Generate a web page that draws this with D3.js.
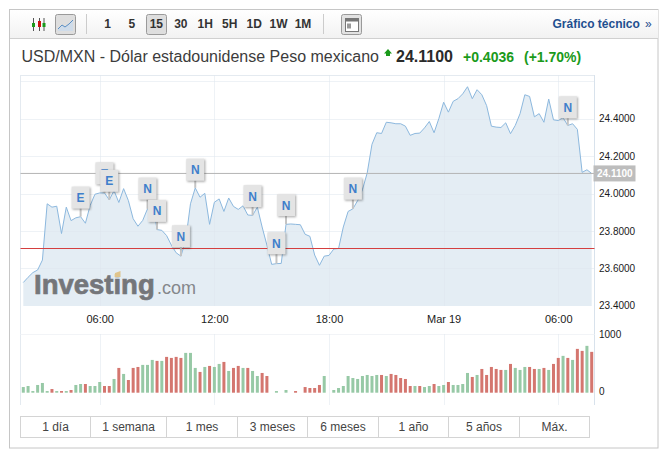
<!DOCTYPE html>
<html>
<head>
<meta charset="utf-8">
<title>USD/MXN</title>
<script src="https://cdn.jsdelivr.net/npm/d3@7"></script>
<style>
  html, body { margin: 0; padding: 0; background: #fff; }
  svg { display: block; font-family: "Liberation Sans", Arial, sans-serif; }
  .axis .domain { display: none; }
  .axis line { display: none; }
  .axis text { fill: #1a1a1a; }
  .flagbox { filter: drop-shadow(1.5px 1.5px 1px rgba(0,0,0,0.35)); }
</style>
</head>
<body>
<svg id="chart" width="668" height="461"></svg>
<script>
// 15 minute bars, one value per bar
const prices = [
  23.524, 23.552, 23.577, 23.591, 23.644, 23.945, 23.927, 23.932, 23.786, 23.927,
  23.855, 23.870, 23.876, 23.841, 23.936, 23.996, 24.003, 24.003, 23.966, 24.015,
  23.952, 24.026, 23.962, 23.865, 23.825, 23.856, 23.918, 23.962, 23.807, 23.803,
  23.775, 23.724, 23.683, 23.665, 23.750, 23.945, 24.030, 23.980, 24.001, 23.835,
  23.953, 23.971, 23.904, 23.976, 23.931, 23.915, 23.934, 23.885, 23.883, 23.927,
  23.821, 23.724, 23.621, 23.625, 23.626, 23.835, 23.837, 23.835, 23.833, 23.782,
  23.771, 23.671, 23.616, 23.665, 23.669, 23.703, 23.706, 23.821, 23.904, 23.918,
  23.962, 24.020, 24.110, 24.263, 24.325, 24.321, 24.381, 24.378, 24.373, 24.373,
  24.360, 24.311, 24.321, 24.323, 24.351, 24.385, 24.325, 24.401, 24.488, 24.435,
  24.493, 24.507, 24.533, 24.571, 24.507, 24.555, 24.528, 24.470, 24.360, 24.355,
  24.353, 24.378, 24.320, 24.364, 24.427, 24.528, 24.519, 24.410, 24.427, 24.381,
  24.505, 24.394, 24.390, 24.405, 24.364, 24.373, 24.343, 24.113, 24.127, 24.107
];
const volumes = [
  99, 117, 29, 135, 170, 29, 64, 29, 29, 29,
  47, 135, 152, 152, 117, 117, 187, 117, 117, 240,
  433, 328, 222, 433, 450, 486, 486, 573, 556, 556,
  626, 608, 626, 608, 696, 696, 433, 363, 450, 468,
  450, 503, 538, 380, 433, 468, 433, 433, 380, 292,
  345, 292, 0, 29, 0, 47, 0, 29, 0, 99,
  82, 82, 135, 292, 0, 47, 82, 117, 292, 257,
  240, 292, 310, 292, 310, 310, 292, 328, 310, 257,
  240, 117, 117, 117, 99, 117, 152, 117, 135, 187,
  135, 135, 152, 345, 275, 310, 415, 310, 450, 415,
  398, 398, 503, 433, 398, 450, 450, 415, 415, 433,
  398, 503, 608, 644, 608, 573, 766, 731, 819, 714
];
// 1 = green bar, 0 = red bar
const volumeUp = [
  1, 1, 1, 1, 1, 1, 0, 1, 0, 1,
  0, 1, 1, 0, 1, 1, 1, 0, 0, 1,
  0, 1, 0, 0, 0, 1, 1, 1, 0, 1,
  0, 0, 0, 0, 1, 1, 1, 0, 1, 0,
  1, 1, 0, 1, 0, 0, 1, 0, 1, 1,
  0, 0, 1, 1, 1, 1, 1, 0, 1, 0,
  0, 0, 0, 1, 1, 1, 1, 1, 1, 1,
  1, 1, 1, 1, 1, 0, 1, 0, 0, 0,
  0, 0, 1, 0, 1, 1, 0, 1, 1, 0,
  1, 1, 1, 1, 0, 1, 0, 0, 0, 0,
  0, 1, 0, 1, 1, 1, 0, 0, 1, 0,
  1, 0, 0, 1, 0, 1, 0, 0, 1, 0
];

const timeTicks = [16, 40, 64, 88, 112];
const timeLabels = ['06:00', '12:00', '18:00', 'Mar 19', '06:00'];
const priceTicks = [23.4, 23.6, 23.8, 24.0, 24.2, 24.4];
const gridPrices = [23.6, 23.8, 24.0, 24.2, 24.4, 24.6];
const volumeTicks = [0, 1000];
const lastPrice = 24.11;
const prevClose = 23.7064;

// event flags: bar they point at, letter, price level of the flag
const flagBars = [12, 17, 18, 26, 28, 33, 36, 48, 55, 53, 69, 114];
const flagLetters = ['E', 'E', 'E', 'N', 'N', 'N', 'N', 'N', 'N', 'N', 'N', 'N'];
const flagLevels = [23.978, 24.108, 24.068, 24.026, 23.907, 23.771, 24.127, 23.986, 23.938, 23.734, 24.026, 24.461];

const toolbarLabels = ['1', '5', '15', '30', '1H', '5H', '1D', '1W', '1M'];
const rangeLabels = ['1 día', '1 semana', '1 mes', '3 meses', '6 meses', '1 año', '5 años', 'Máx.'];
const rangeEdges = [20.5, 90.5, 166.5, 237.5, 307.5, 378.5, 448.5, 519.5, 589.5];

const svg = d3.select('#chart');

const x = d3.scaleLinear().domain([0, 119]).range([23.3, 591.7]);
const y = d3.scaleLinear().domain([23.4, 24.6]).range([305.7, 81.3]);
const yVol = d3.scaleLinear().domain([0, 1000]).range([392.7, 335.5]);

const plotLeft = 20.5, plotRight = 594.5, plotTop = 75, plotBottom = 306, paneBottom = 405;

// outer frame and toolbar
const defs = svg.append('defs');
const grad = defs.append('linearGradient').attr('id', 'bar').attr('x2', 0).attr('y2', 1);
grad.append('stop').attr('offset', 0).attr('stop-color', '#ffffff');
grad.append('stop').attr('offset', 1).attr('stop-color', '#f2f2f2');

svg.append('rect').attr('x', 9.5).attr('y', 9.5).attr('width', 648.5).attr('height', 438.5)
  .attr('fill', '#fff').attr('stroke', '#c6c6c6');
svg.append('rect').attr('x', 10).attr('y', 10).attr('width', 648).attr('height', 28).attr('fill', 'url(#bar)');
svg.append('line').attr('x1', 10).attr('x2', 658).attr('y1', 38.5).attr('y2', 38.5).attr('stroke', '#d0d0d0');

// candle icon
const candleX = [33.5, 39.5, 44];
const candleCol = ['#1a9a1a', '#cc1111', '#1a9a1a'];
candleX.forEach(function(cx, i) {
  svg.append('line').attr('x1', cx).attr('x2', cx).attr('y1', 18).attr('y2', 31).attr('stroke', '#555');
  svg.append('rect').attr('x', cx - 1.5).attr('y', i == 1 ? 21 : 23).attr('width', 3).attr('height', i == 1 ? 6 : 4)
    .attr('fill', candleCol[i]);
});

// line chart button
svg.append('rect').attr('x', 55.5).attr('y', 14.5).attr('width', 20).attr('height', 20).attr('rx', 2)
  .attr('fill', '#dedede').attr('stroke', '#9a9a9a');
svg.append('path').attr('d', 'M58,29 L62,25 L65,27 L69,24 L73,20 L73,31 L58,31 Z').attr('fill', '#cfdcea');
svg.append('path').attr('d', 'M58,29 L62,25 L65,27 L69,24 L73,20').attr('fill', 'none').attr('stroke', '#5b8fc4');

svg.append('line').attr('x1', 86.5).attr('x2', 86.5).attr('y1', 14).attr('y2', 34).attr('stroke', '#ccc');
svg.append('line').attr('x1', 323.5).attr('x2', 323.5).attr('y1', 14).attr('y2', 34).attr('stroke', '#ccc');

svg.append('rect').attr('x', 146.5).attr('y', 14.5).attr('width', 20).attr('height', 20).attr('rx', 2)
  .attr('fill', '#dedede').attr('stroke', '#9a9a9a');

const toolX = d3.scalePoint().domain(toolbarLabels).range([107.5, 303]);
svg.selectAll('.tool').data(toolbarLabels).enter().append('text')
  .attr('class', 'tool')
  .attr('x', d => toolX(d)).attr('y', 28)
  .attr('text-anchor', 'middle')
  .attr('font-size', 12).attr('font-weight', 'bold').attr('fill', '#333')
  .text(d => d);

// table icon
svg.append('rect').attr('x', 341.5).attr('y', 14.5).attr('width', 20).attr('height', 20).attr('rx', 2)
  .attr('fill', '#e2e2e2').attr('stroke', '#9a9a9a');
svg.append('rect').attr('x', 345.5).attr('y', 18.5).attr('width', 13).attr('height', 13)
  .attr('fill', '#fff').attr('stroke', '#777');
svg.append('rect').attr('x', 345.5).attr('y', 18.5).attr('width', 13).attr('height', 3).attr('fill', '#777');
svg.append('rect').attr('x', 347).attr('y', 23.5).attr('width', 4).attr('height', 5).attr('fill', '#999');

svg.append('text').attr('x', 552.5).attr('y', 28)
  .attr('font-size', 12).attr('font-weight', 'bold').attr('fill', '#1f4f8f').text('Gráfico técnico');
svg.append('text').attr('x', 645).attr('y', 28)
  .attr('font-size', 12).attr('fill', '#1f4f8f').text('»');

// title row
svg.append('text').attr('x', 21.5).attr('y', 62)
  .attr('font-size', 16).attr('fill', '#3c3c3c').text('USD/MXN - Dólar estadounidense Peso mexicano');
svg.append('path').attr('d', 'M388,49 L392,53.5 L390,53.5 L390,56 L386,56 L386,53.5 L384,53.5 Z').attr('fill', '#1a9a1a');
svg.append('text').attr('x', 396).attr('y', 62)
  .attr('font-size', 16).attr('font-weight', 'bold').attr('fill', '#2a2a2a').text('24.1100');
svg.append('text').attr('x', 463).attr('y', 62)
  .attr('font-size', 14).attr('font-weight', 'bold').attr('fill', '#1a9a1a').text('+0.4036');
svg.append('text').attr('x', 524).attr('y', 62)
  .attr('font-size', 14).attr('font-weight', 'bold').attr('fill', '#1a9a1a').text('(+1.70%)');

// plot frame and grid
svg.append('line').attr('x1', plotLeft).attr('x2', plotLeft).attr('y1', plotTop).attr('y2', paneBottom).attr('stroke', '#e4eaf0');
svg.append('line').attr('x1', plotLeft).attr('x2', plotRight).attr('y1', plotTop + 0.5).attr('y2', plotTop + 0.5).attr('stroke', '#e4eaf0');
svg.append('line').attr('x1', plotRight).attr('x2', plotRight).attr('y1', plotTop).attr('y2', paneBottom).attr('stroke', '#d8e2ec');
svg.append('line').attr('x1', plotLeft).attr('x2', plotRight).attr('y1', 334.5).attr('y2', 334.5).attr('stroke', '#f2f4f7');

// area first, grid shows faintly on top of it
const area = d3.area().x((d, i) => x(i)).y0(plotBottom).y1(d => y(d));
const line = d3.line().x((d, i) => x(i)).y(d => y(d));
svg.append('path').datum(prices).attr('d', area).attr('fill', '#e4edf4');

svg.selectAll('.hgrid').data(gridPrices).enter().append('line')
  .attr('class', 'hgrid')
  .attr('x1', plotLeft).attr('x2', plotRight)
  .attr('y1', d => Math.round(y(d)) + 0.5).attr('y2', d => Math.round(y(d)) + 0.5)
  .attr('stroke', '#dde6ee').attr('stroke-opacity', 0.5);
svg.selectAll('.vgrid').data(timeTicks).enter().append('line')
  .attr('class', 'vgrid')
  .attr('x1', d => Math.round(x(d)) + 0.5).attr('x2', d => Math.round(x(d)) + 0.5)
  .attr('y1', plotTop).attr('y2', paneBottom)
  .attr('stroke', '#dde6ee').attr('stroke-opacity', 0.5);

// white band between the panes covers the grid
svg.append('rect').attr('x', plotLeft + 0.5).attr('y', plotBottom).attr('width', plotRight - plotLeft - 1).attr('height', 28).attr('fill', '#fff');

// watermark
svg.append('text').attr('x', 34).attr('y', 293.5)
  .attr('font-size', 27.5).attr('font-weight', 'bold').attr('fill', '#74767a')
  .attr('stroke', '#74767a').attr('stroke-width', 0.7).text('Investing');
svg.append('text').attr('x', 157).attr('y', 293.5)
  .attr('font-size', 18).attr('fill', '#85878b').text('.com');
svg.append('path').attr('d', 'M115,273 L120.5,271 L120.5,277 L115,277 Z').attr('fill', '#e0c48c');

svg.append('path').datum(prices).attr('d', line)
  .attr('fill', 'none').attr('stroke', '#8cb8de').attr('stroke-width', 1);

// reference lines
svg.append('line').attr('x1', plotLeft).attr('x2', plotRight)
  .attr('y1', y(lastPrice) + 0.5).attr('y2', y(lastPrice) + 0.5).attr('stroke', '#b4b4b4');
svg.append('line').attr('x1', plotLeft).attr('x2', plotRight)
  .attr('y1', Math.round(y(prevClose)) + 0.5).attr('y2', Math.round(y(prevClose)) + 0.5).attr('stroke', '#d43f3f');

// flags
const flags = svg.selectAll('.flag').data(flagBars).enter().append('g').attr('class', 'flag');
flags.append('line')
  .attr('x1', d => x(d)).attr('x2', d => x(d))
  .attr('y1', (d, i) => y(flagLevels[i]))
  .attr('y2', d => y(prices[d]))
  .attr('stroke', '#c4c4c4').attr('stroke-width', 2);
flags.append('rect')
  .attr('class', 'flagbox')
  .attr('x', d => x(d) - 9).attr('y', (d, i) => y(flagLevels[i]) - 11)
  .attr('width', 18).attr('height', 22).attr('fill', '#e4e4e4');
flags.append('text')
  .attr('x', d => x(d)).attr('y', (d, i) => y(flagLevels[i]) + 4.5)
  .attr('text-anchor', 'middle').attr('font-size', 12).attr('font-weight', 'bold')
  .attr('fill', '#3f7fcb')
  .text((d, i) => flagLetters[i]);

// volume
svg.selectAll('.vol').data(volumes).enter().append('rect')
  .attr('class', 'vol')
  .attr('x', (d, i) => x(i) - 1.5)
  .attr('width', 3)
  .attr('y', d => yVol(d))
  .attr('height', d => yVol(0) - yVol(d))
  .attr('fill', (d, i) => volumeUp[i] ? '#97c9a6' : '#d4766f');

// axes
const xAxis = d3.axisBottom(x).tickValues(timeTicks).tickSize(0).tickPadding(0)
  .tickFormat((d, i) => timeLabels[i]);
svg.append('g').attr('class', 'axis').attr('transform', 'translate(0,315)')
  .call(xAxis)
  .selectAll('text').attr('font-size', 11).attr('font-family', 'Liberation Sans, Arial, sans-serif');

const yAxis = d3.axisRight(y).tickValues(priceTicks).tickSize(0).tickPadding(0)
  .tickFormat(d3.format('.4f'));
svg.append('g').attr('class', 'axis').attr('transform', 'translate(599,0)')
  .call(yAxis)
  .selectAll('text').attr('font-size', 10).attr('font-family', 'Liberation Sans, Arial, sans-serif');

const volAxis = d3.axisRight(yVol).tickValues(volumeTicks).tickSize(0).tickPadding(0)
  .tickFormat(d3.format('d'));
svg.append('g').attr('class', 'axis').attr('transform', 'translate(599,-1)')
  .call(volAxis)
  .selectAll('text').attr('font-size', 10).attr('font-family', 'Liberation Sans, Arial, sans-serif');

// last price tag
svg.append('rect').attr('x', 593.5).attr('y', y(lastPrice) - 7.5).attr('width', 42).attr('height', 16).attr('fill', '#bdbdbd');
svg.append('text').attr('x', 597).attr('y', y(lastPrice) + 4.5)
  .attr('font-size', 10).attr('font-weight', 'bold').attr('fill', '#fff').text(d3.format('.4f')(lastPrice));

// range tabs
svg.append('rect').attr('x', rangeEdges[0]).attr('y', 416.5)
  .attr('width', rangeEdges[8] - rangeEdges[0]).attr('height', 21)
  .attr('fill', '#fff').attr('stroke', '#d4d4d4');
svg.selectAll('.tabsep').data(rangeEdges.slice(1, 8)).enter().append('line')
  .attr('class', 'tabsep')
  .attr('x1', d => d).attr('x2', d => d).attr('y1', 416.5).attr('y2', 437.5).attr('stroke', '#d4d4d4');
svg.selectAll('.tab').data(rangeLabels).enter().append('text')
  .attr('class', 'tab')
  .attr('x', (d, i) => (rangeEdges[i] + rangeEdges[i + 1]) / 2).attr('y', 431)
  .attr('text-anchor', 'middle').attr('font-size', 12).attr('fill', '#444')
  .text(d => d);
</script>
</body>
</html>
